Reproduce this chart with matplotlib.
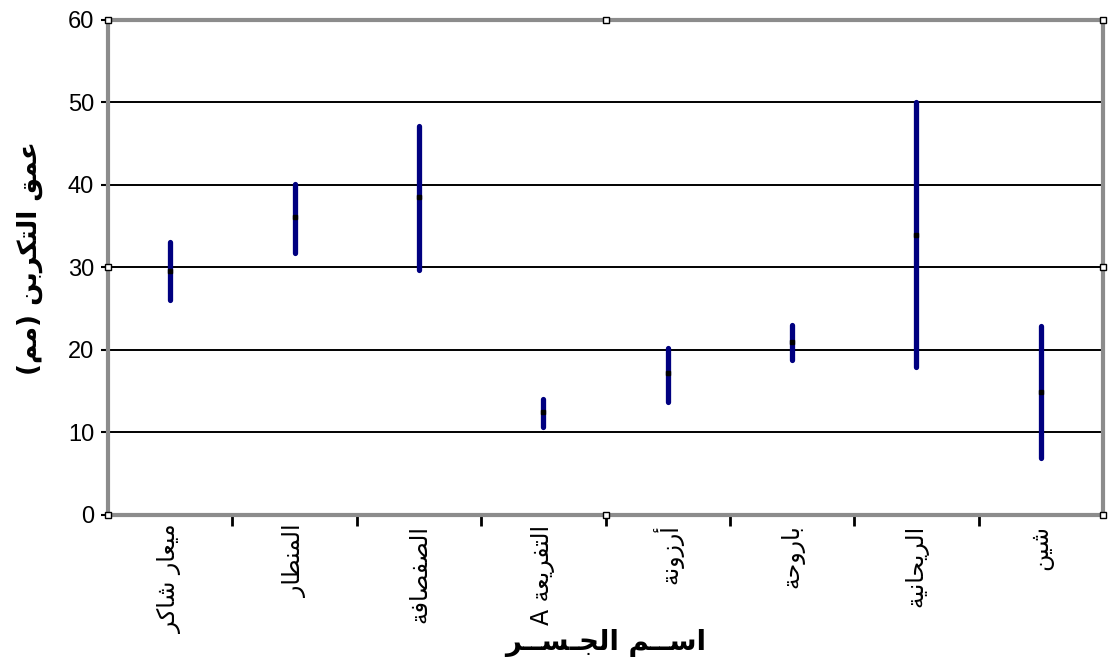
import numpy as np
import matplotlib
matplotlib.use("Agg")
import matplotlib.pyplot as plt

# Bridge names (x categories) and carbonation depth range in mm
bridges = ["ميعار شاكر", "المنطار", "الصفصافة", "التفريعة A",
           "أرزونة", "باروحة", "الريحانية", "شين"]
depth_high = [33.1, 40.1, 47.2, 14.0, 20.2, 23.0, 50.1, 22.9]
depth_low = [26.0, 31.8, 29.7, 10.7, 13.7, 18.8, 17.9, 6.9]
depth_mid = [29.6, 36.1, 38.5, 12.5, 17.2, 21.0, 33.9, 14.9]
y_ticks = [0, 10, 20, 30, 40, 50, 60]
x_title = "اســم الجـســر"
y_title = "عمق التكربن (مم)"

# matplotlib has no Arabic shaping, so map letters to presentation forms
# (isolated, final, initial, medial); two-form letters only join to the right
FORMS = {
    "ا": ("\uFE8D", "\uFE8E"), "أ": ("\uFE83", "\uFE84"),
    "ب": ("\uFE8F", "\uFE90", "\uFE91", "\uFE92"), "ة": ("\uFE93", "\uFE94"),
    "ت": ("\uFE95", "\uFE96", "\uFE97", "\uFE98"),
    "ج": ("\uFE9D", "\uFE9E", "\uFE9F", "\uFEA0"),
    "ح": ("\uFEA1", "\uFEA2", "\uFEA3", "\uFEA4"),
    "ر": ("\uFEAD", "\uFEAE"), "ز": ("\uFEAF", "\uFEB0"),
    "س": ("\uFEB1", "\uFEB2", "\uFEB3", "\uFEB4"),
    "ش": ("\uFEB5", "\uFEB6", "\uFEB7", "\uFEB8"),
    "ص": ("\uFEB9", "\uFEBA", "\uFEBB", "\uFEBC"),
    "ط": ("\uFEC1", "\uFEC2", "\uFEC3", "\uFEC4"),
    "ع": ("\uFEC9", "\uFECA", "\uFECB", "\uFECC"),
    "ف": ("\uFED1", "\uFED2", "\uFED3", "\uFED4"),
    "ق": ("\uFED5", "\uFED6", "\uFED7", "\uFED8"),
    "ك": ("\uFED9", "\uFEDA", "\uFEDB", "\uFEDC"),
    "ل": ("\uFEDD", "\uFEDE", "\uFEDF", "\uFEE0"),
    "م": ("\uFEE1", "\uFEE2", "\uFEE3", "\uFEE4"),
    "ن": ("\uFEE5", "\uFEE6", "\uFEE7", "\uFEE8"),
    "و": ("\uFEED", "\uFEEE"),
    "ي": ("\uFEF1", "\uFEF2", "\uFEF3", "\uFEF4"),
    "ـ": ("ـ", "ـ", "ـ", "ـ"),
}


def shape(text):
    out = []
    for i, ch in enumerate(text):
        if ch not in FORMS:
            out.append(ch)
            continue
        prev = text[i - 1] if i > 0 else ""
        nxt = text[i + 1] if i + 1 < len(text) else ""
        join_prev = prev in FORMS and len(FORMS[prev]) == 4
        join_next = len(FORMS[ch]) == 4 and nxt in FORMS
        f = FORMS[ch]
        if join_prev and join_next:
            out.append(f[3])
        elif join_prev:
            out.append(f[1])
        elif join_next:
            out.append(f[2])
        else:
            out.append(f[0])
    vis = "".join(reversed(out))
    return vis.translate(str.maketrans("()", ")("))


plt.rcParams["font.family"] = ["Liberation Sans", "DejaVu Sans"]

fig = plt.figure(figsize=(11.08, 6.64), dpi=100)
ax = fig.add_axes([0.0975, 0.2244, 0.898, 0.7456])

x = np.arange(len(bridges))
ax.vlines(x, depth_low, depth_high, color="#000080", lw=3.8, capstyle="round", zorder=3)
ax.plot(x, depth_mid, "s", color="black", ms=2.2, zorder=4)

ax.set_xlim(-0.5, len(bridges) - 0.5)
ax.set_ylim(0, 60)
ax.set_yticks(y_ticks)
ax.tick_params(axis="y", labelsize=17, length=5, width=1.5, pad=5)
ax.yaxis.grid(True, color="black", lw=1.4)
ax.set_axisbelow(True)

# category ticks sit between bars, labels under each bar
ax.set_xticks(x[:-1] + 0.5)
ax.set_xticklabels([])
ax.tick_params(axis="x", which="major", length=8, width=2)
ax.set_xticks(x, minor=True)
ax.set_xticklabels([shape(b) for b in bridges], minor=True, rotation=90,
                   fontsize=17, family="DejaVu Sans", va="top")
ax.tick_params(axis="x", which="minor", length=0, pad=7)

for s in ax.spines.values():
    s.set_color("#8c8c8c")
    s.set_linestyle((0, (1, 1)))
    s.set_linewidth(3)

# small selection handles on the plot area frame
hx = [-0.5, -0.5, -0.5, 3.5, 7.5, 7.5, 7.5, 3.5]
hy = [0, 30, 60, 60, 60, 30, 0, 0]
ax.plot(hx, hy, "s", ms=5, mfc="white", mec="black", mew=1, clip_on=False, zorder=5)

fig.text(605.5 / 1108, 1 - 643 / 664, shape(x_title), fontsize=20, fontweight="bold",
         family="DejaVu Sans", ha="center", va="center")
fig.text(30 / 1108, 1 - 258 / 664, shape(y_title), fontsize=19, fontweight="bold",
         family="DejaVu Sans", ha="center", va="center", rotation=90)

fig.savefig("out.png", dpi=100)
